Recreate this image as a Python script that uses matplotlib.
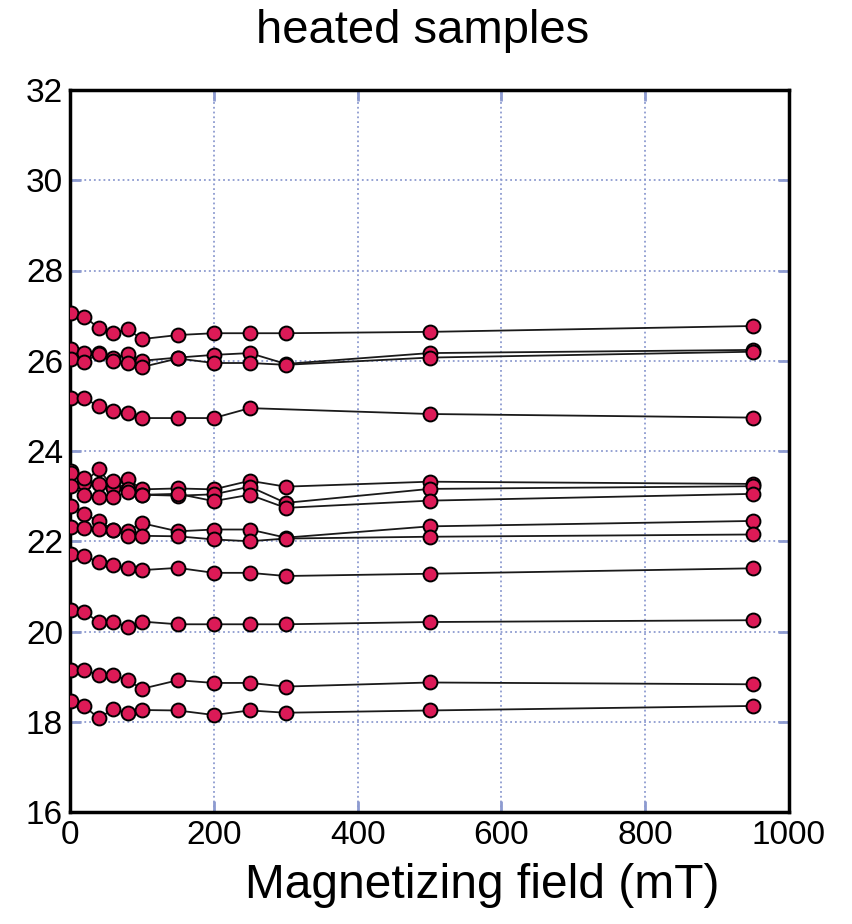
import numpy as np
import matplotlib
matplotlib.use('Agg')
import matplotlib.pyplot as plt

# magnetizing field steps (mT)
field = [2, 20, 40, 60, 80, 100, 150, 200, 250, 300, 500, 950]

# one list per heated sample, None where no measurement
s_a = [27.05, 26.98, 26.72, 26.62, 26.70, 26.48, 26.57, 26.61, 26.61, 26.61, 26.64, 26.77]
s_b = [26.26, 26.18, 26.18, 26.06, 26.15, 26.00, 26.07, 26.13, 26.17, 25.93, 26.17, 26.24]
s_c = [26.04, 25.98, 26.15, 26.00, 25.96, 25.86, 26.05, 25.95, 25.95, 25.91, 26.07, 26.20]
s_d = [25.17, 25.17, 24.99, 24.88, 24.84, 24.73, 24.73, 24.73, 24.95, None, 24.82, 24.74]
s_h = [23.55, 23.30, 23.60, 23.19, 23.38, 23.15, 23.17, 23.15, 23.34, 23.21, 23.32, 23.27]
s_i = [23.52, 23.41, 23.26, 23.34, 23.15, 23.03, 23.01, 23.04, 23.21, 22.85, 23.16, 23.22]
s_j = [23.23, 23.03, 22.97, 22.97, 23.10, 23.03, 23.05, 22.89, 23.03, 22.74, 22.90, 23.05]
s_f = [22.79, 22.60, 22.45, 22.25, 22.23, 22.40, 22.22, 22.26, 22.26, 22.08, 22.33, 22.45]
s_g = [22.32, 22.29, 22.27, 22.25, 22.12, 22.12, 22.11, 22.04, 22.00, 22.06, 22.10, 22.15]
s_k = [21.72, 21.67, 21.54, 21.48, 21.41, 21.36, 21.41, 21.30, 21.30, 21.23, 21.28, 21.40]
s_l = [20.48, 20.44, 20.20, 20.21, 20.11, 20.22, 20.16, 20.16, 20.16, 20.16, 20.21, 20.25]
s_m = [19.14, 19.14, 19.04, 19.04, 18.92, 18.73, 18.92, 18.86, 18.86, 18.78, 18.87, 18.83]
s_n = [18.47, 18.34, 18.08, 18.28, 18.19, 18.26, 18.25, 18.15, 18.25, 18.20, 18.25, 18.35]

samples = [s_a, s_b, s_c, s_d, s_h, s_i, s_j, s_f, s_g, s_k, s_l, s_m, s_n]

plt.rcParams['font.family'] = ['Liberation Sans', 'DejaVu Sans']

fig = plt.figure(figsize=(8.52, 9.24), dpi=100)
ax = fig.add_axes([70 / 852, 112 / 924, 719 / 852, 722 / 924])

grid_col = '#8d9bd0'
ax.grid(True, color=grid_col, linestyle=':', linewidth=1.3)

for ys in samples:
    xs = [x for x, y in zip(field, ys) if y is not None]
    yv = [y for y in ys if y is not None]
    ax.plot(xs, yv, color='#1a1a1a', linewidth=1.3, marker='o',
            markersize=10, markerfacecolor='#dc1a57',
            markeredgecolor='black', markeredgewidth=1.4, zorder=3)

ax.set_xlim(0, 1000)
ax.set_ylim(16, 32)
ax.set_xticks(np.arange(0, 1001, 200))
ax.set_yticks(np.arange(16, 33, 2))
ax.tick_params(direction='in', length=8, width=2, color=grid_col,
               labelsize=24, pad=5, top=True, right=True)
ax.tick_params(axis='x', pad=6)
for sp in ax.spines.values():
    sp.set_linewidth(2.5)
    sp.set_color('black')

fig.text(423 / 852, 1 - 31 / 924, 'heated samples', ha='center', va='center',
         fontsize=34)
fig.text(482 / 852, 1 - 886 / 924, 'Magnetizing field (mT)', ha='center',
         va='center', fontsize=34.5)

fig.savefig('out.png', dpi=100)
plt.close(fig)
